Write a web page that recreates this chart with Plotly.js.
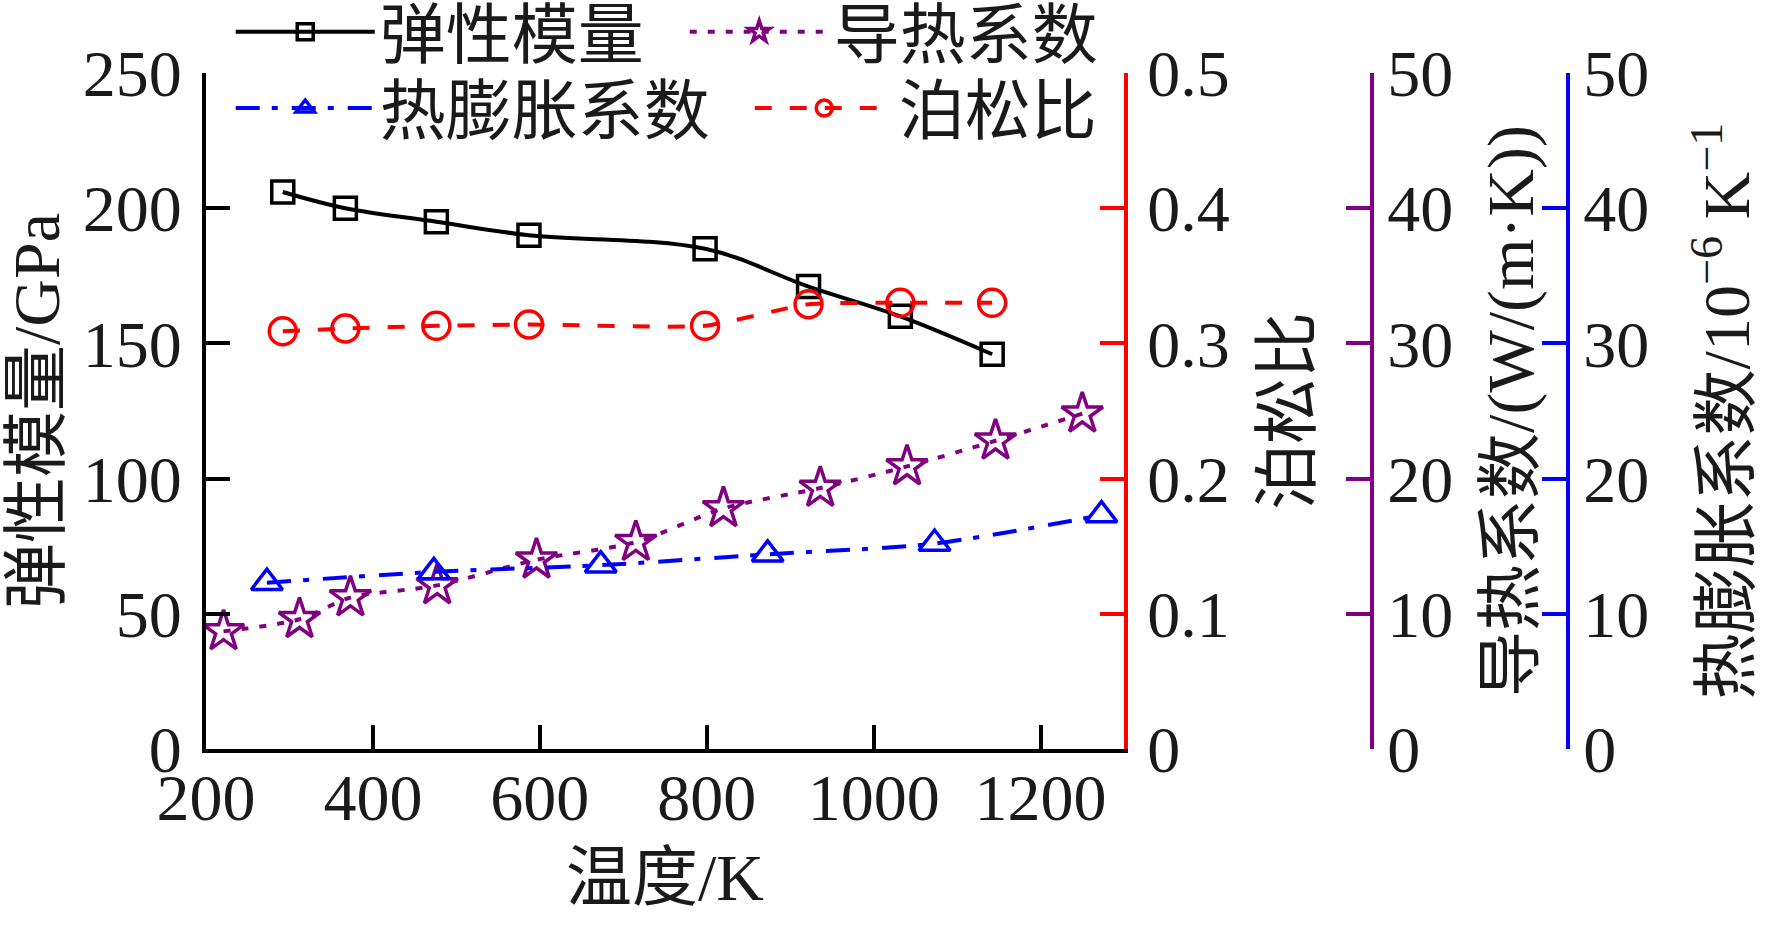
<!DOCTYPE html>
<html>
<head>
<meta charset="utf-8">
<script src="https://cdn.plot.ly/plotly-3.0.1.min.js"></script>
<style>
  html, body { margin: 0; padding: 0; background: #fff; }
  #chart { width: 1772px; height: 927px; }
</style>
</head>
<body>
<div id="chart"></div>
<script>
// 弹性模量 (GPa)
var modulusT = [292, 367, 476, 587, 798, 922, 1032, 1142];
var modulusVal = [206, 200, 195, 190, 185, 171, 160, 146];

// 泊松比
var poissonT = [292, 367, 476, 587, 798, 922, 1032, 1142];
var poissonVal = [0.309, 0.311, 0.313, 0.314, 0.313, 0.329, 0.330, 0.330];

// 导热系数 W/(m·K)
var condT = [221, 312, 373, 477, 596, 715, 820, 936, 1040, 1146, 1250];
var condVal = [8.7, 9.6, 11.2, 12.1, 14.0, 15.3, 17.8, 19.3, 20.9, 22.8, 24.8];

// 热膨胀系数 10^-6 K^-1
var expT = [273, 473, 673, 873, 1073, 1273];
var expVal = [12.3, 13.1, 13.6, 14.4, 15.2, 17.3];

var xTicks = [200, 400, 600, 800, 1000, 1200];

var serif = 'Liberation Serif, Times New Roman, Noto Sans CJK SC, serif';
var fs = 66;
var textColor = '#1a1a1a';

var black = '#000000';
var red = '#ff0000';
var purple = '#800080';
var blue = '#0000ff';

var data = [
  {
    x: modulusT, y: modulusVal, yaxis: 'y',
    type: 'scatter', mode: 'lines+markers', name: '弹性模量',
    line: {color: black, width: 4, shape: 'spline', smoothing: 1},
    marker: {symbol: 'square-open', size: 22, color: black, line: {width: 3.5, color: black}},
    legend: 'legend'
  },
  {
    x: condT, y: condVal, yaxis: 'y3',
    type: 'scatter', mode: 'lines+markers', name: '导热系数',
    line: {color: purple, width: 4, dash: '7px,11px', shape: 'spline', smoothing: 0.8},
    marker: {symbol: 'star-open', size: 31, color: purple, line: {width: 3.5, color: purple}},
    legend: 'legend'
  },
  {
    x: expT, y: expVal, yaxis: 'y4',
    type: 'scatter', mode: 'lines+markers', name: '热膨胀系数',
    line: {color: blue, width: 4, dash: '24px,12px,6px,14px', shape: 'spline', smoothing: 0.8},
    marker: {symbol: 'triangle-up-open', size: 27, color: blue, line: {width: 3.5, color: blue}},
    legend: 'legend2'
  },
  {
    x: poissonT, y: poissonVal, yaxis: 'y2',
    type: 'scatter', mode: 'lines+markers', name: '泊松比',
    line: {color: red, width: 4, dash: '17px,18px', shape: 'spline', smoothing: 0.5},
    marker: {symbol: 'circle-open', size: 27, color: red, line: {width: 3.5, color: red}},
    legend: 'legend2'
  }
];

function yAxis(color, range, dtick, extra) {
  var ax = {
    range: range, dtick: dtick, tick0: 0,
    showgrid: false, zeroline: false,
    showline: true, linecolor: color, linewidth: 4,
    ticks: 'inside', ticklen: 24, tickwidth: 4, tickcolor: color,
    tickfont: {family: serif, size: fs, color: textColor},
    fixedrange: true
  };
  for (var k in extra) ax[k] = extra[k];
  return ax;
}

var layout = {
  width: 1772,
  height: 927,
  margin: {l: 206, r: 20, t: 73, b: 178, autoexpand: false},
  paper_bgcolor: '#ffffff',
  plot_bgcolor: 'rgba(0,0,0,0)',
  font: {family: serif, size: fs, color: textColor},
  showlegend: true,
  xaxis: {
    domain: [0, 0.5938],
    range: [200, 1300],
    tickvals: xTicks,
    showgrid: false, zeroline: false,
    showline: true, linecolor: black, linewidth: 4,
    ticks: 'inside', ticklen: 24, tickwidth: 4, tickcolor: black,
    ticklabelstandoff: -12,
    tickfont: {family: serif, size: fs, color: textColor},
    title: {text: '温度/K', font: {family: serif, size: fs, color: textColor}, standoff: 22},
    fixedrange: true
  },
  yaxis: yAxis(black, [0, 250], 50, {
    ticklabelstandoff: 7,
    title: {text: '弹性模量/GPa', font: {family: serif, size: fs, color: textColor}, standoff: 8}
  }),
  yaxis2: yAxis(red, [0, 0.5], 0.1, {
    overlaying: 'y', side: 'right', anchor: 'x',
    ticklabelstandoff: 6,
    title: {text: '泊松比', font: {family: serif, size: fs, color: textColor}, standoff: 36}
  }),
  yaxis3: yAxis(purple, [0, 50], 10, {
    overlaying: 'y', side: 'right', anchor: 'free', position: 0.7542,
    title: {text: '导热系数/(W/(m·K))', font: {family: serif, size: fs, color: textColor}, standoff: 34}
  }),
  yaxis4: yAxis(blue, [0, 50], 10, {
    overlaying: 'y', side: 'right', anchor: 'free', position: 0.881,
    title: {text: '热膨胀系数/10<sup>−6</sup> K<sup>−1</sup>', font: {family: serif, size: fs, color: textColor}, standoff: 54}
  }),
  legend: {
    orientation: 'h',
    x: 0.016, xanchor: 'left',
    y: 1.0607, yanchor: 'middle',
    bgcolor: 'rgba(0,0,0,0)',
    itemwidth: 139,
    itemsizing: 'trace',
    entrywidth: 300,
    font: {family: serif, size: 66, color: textColor},
    traceorder: 'normal'
  },
  legend2: {
    orientation: 'h',
    x: 0.016, xanchor: 'left',
    y: 0.948, yanchor: 'middle',
    bgcolor: 'rgba(0,0,0,0)',
    itemwidth: 139,
    itemsizing: 'trace',
    entrywidth: 365,
    font: {family: serif, size: 66, color: textColor},
    traceorder: 'normal'
  }
};

Plotly.newPlot('chart', data, layout, {staticPlot: true});
</script>
</body>
</html>
